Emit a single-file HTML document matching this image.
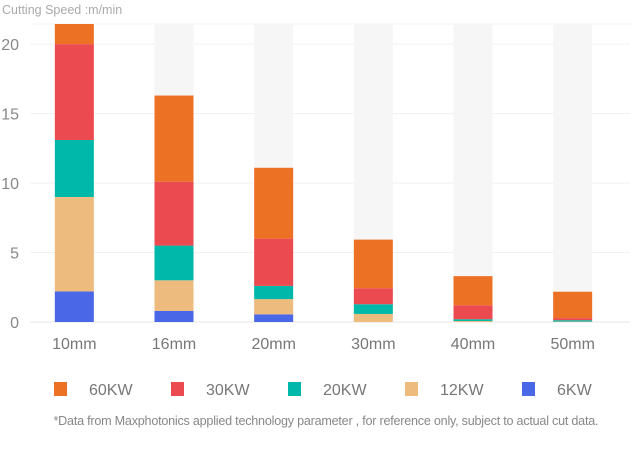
<!DOCTYPE html>
<html><head><meta charset="utf-8"><style>
body{margin:0;background:#fff;font-family:"Liberation Sans",sans-serif;}
svg text{font-family:"Liberation Sans",sans-serif;}
</style></head><body>
<svg id="chart" width="635" height="449">
<text x="2" y="14" font-size="12.5" fill="#aaa">Cutting  Speed :m/min</text>
<g id="grid"></g><g id="bg"></g><g id="bars"></g><g id="xl"></g><g id="yl"></g><g id="legend"></g>
<text x="326" y="425" font-size="12.6" fill="#888" text-anchor="middle" textLength="545">*Data from Maxphotonics applied technology parameter ,  for reference only, subject to actual cut data.</text>
</svg>
<script>
const categories=["10mm","16mm","20mm","30mm","40mm","50mm"];
const seriesNames=["6KW","12KW","20KW","30KW","60KW"];
const s6=[2.2,0.8,0.55,0,0,0];
const s12=[6.8,2.2,1.1,0.58,0.07,0.03];
const s20=[4.1,2.5,0.95,0.7,0.13,0.1];
const s30=[6.9,4.6,3.4,1.15,1.0,0.15];
const s60=[1.6,6.2,5.1,3.5,2.1,1.9];
const yTicks=[0,5,10,15,20];
const colors=["#4a67e8","#eebb7f","#00b8a9","#ec4a51","#ec7125"];
const NS="http://www.w3.org/2000/svg";
const X0=24,X1=622,Y0=322,YT=24,YMAX=21.45;
const band=(X1-X0)/categories.length, bw=39;
const y=v=>Y0-(v/YMAX)*(Y0-YT);
const xc=i=>X0+band*(i+0.5)+0.5;
function mk(p,t,a){const e=document.createElementNS(NS,t);for(const k in a)e.setAttribute(k,a[k]);document.getElementById(p).appendChild(e);return e;}
yTicks.forEach(t=>{
 const l=mk("grid","line",{x1:30,x2:630,y1:y(t),y2:y(t),stroke:t===0?"#e4e4e4":"#f1f1f1"});
 
 
 const tx=mk("yl","text",{x:19,y:y(t)+6,"font-size":16,fill:"#888","text-anchor":"end"});
 tx.textContent=t;
 
 
});
const tl=mk("grid","line",{x1:30,x2:630,y1:YT,y2:YT,stroke:"#f3f3f3"});


const series=[s6,s12,s20,s30,s60];
categories.forEach((c,i)=>{
 const b=mk("bg","rect",{x:xc(i)-bw/2,y:YT,width:bw,height:Y0-YT,fill:"#f6f6f6"});
 
 
 let cum=0;
 series.forEach((s,k)=>{
  const v=s[i]; if(v<=0)return;
  const top=Math.max(y(cum+v),YT), bot=y(cum);
  const r=mk("bars","rect",{x:xc(i)-bw/2,y:top,width:bw,height:Math.max(bot-top,0),fill:colors[k]});
  
  
  cum+=v;
 });
 const t=mk("xl","text",{x:xc(i),y:349,"font-size":16,fill:"#777","text-anchor":"middle"});
 t.textContent=c;
 
 
});
const legOrder=[4,3,2,1,0];
legOrder.forEach((k,j)=>{
 const lx=54+j*117;
 const g=mk("legend","g",{});
 
 
 const r=document.createElementNS(NS,"rect");
 r.setAttribute("x",lx);r.setAttribute("y",382);r.setAttribute("width",13);r.setAttribute("height",14);r.setAttribute("fill",colors[k]);
 
 
 g.appendChild(r);
 const t=document.createElementNS(NS,"text");
 t.setAttribute("x",lx+35);t.setAttribute("y",395);t.setAttribute("font-size",16);t.setAttribute("fill","#777");
 t.textContent=seriesNames[k];
 
 
 g.appendChild(t);
});
</script>
</body></html>
